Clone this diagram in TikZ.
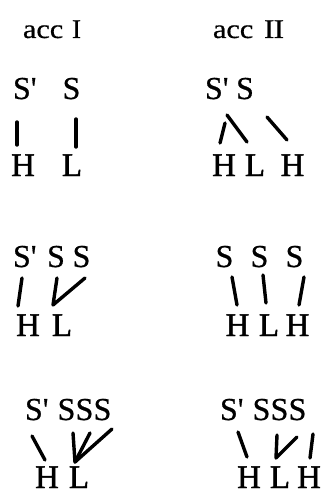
\documentclass[tikz,border=0pt]{standalone}
\usepackage{fontspec}
\setmainfont{Liberation Serif}
\newfontfamily\symfont[FakeBold=0.6]{Liberation Serif}
\newfontfamily\tonefont[FakeBold=1.4]{Liberation Serif}
\begin{document}
\begin{tikzpicture}[x=1pt,y=-1pt,
  every node/.style={inner sep=0pt,outer sep=0pt},
  title/.style={font=\symfont\fontsize{27}{30}\selectfont,anchor=base west},
  sym/.style={font=\symfont\fontsize{32}{36}\selectfont,anchor=base},
  symw/.style={font=\symfont\fontsize{32}{36}\selectfont,anchor=base west},
  tone/.style={font=\tonefont\fontsize{33}{36}\selectfont,anchor=base},
  assoc/.style={line width=3.4pt,line cap=round,line join=round}]
\useasboundingbox (0,0) rectangle (323,492);
% titles
\node[title] (t1a) at (23,38) {\scalebox{1.12}[1]{acc}};
\node[title] (t1b) at (72,38) {I};
\node[title] (t2a) at (213,38) {\scalebox{1.12}[1]{acc}};
\node[title] (t2b) at (264,38) {\scalebox{1.15}[1]{I\kern-0.6ptI}};
% ---------- row 1 left
\node[symw] (a1p) at (13,99) {S\textquotesingle};
\node[sym] (a1s) at (71.5,99) {S};
\node[tone] (a1h) at (23,176) {H};
\node[tone] (a1l) at (72,176) {L};
\coordinate (a1u1) at (17,122); \coordinate (a1d1) at (17,145);
\coordinate (a1u2) at (76,119); \coordinate (a1d2) at (76,147);
\draw[assoc] (a1u1) -- (a1d1);
\draw[assoc] (a1u2) -- (a1d2);
% ---------- row 1 right
\node[symw] (b1p) at (205,99) {S\textquotesingle};
\node[sym] (b1s) at (245,99) {S};
\node[tone] (b1h) at (224,176) {H};
\node[tone] (b1l) at (255,176) {L};
\node[tone] (b1h2) at (292.5,176) {H};
\coordinate (b1u1) at (225,123); \coordinate (b1d1) at (220,143);
\coordinate (b1u2) at (227,115); \coordinate (b1d2) at (247,142);
\coordinate (b1u3) at (267,117); \coordinate (b1d3) at (287,140);
\draw[assoc] (b1u1) -- (b1d1);
\draw[assoc] (b1u2) -- (b1d2);
\draw[assoc] (b1u3) -- (b1d3);
% ---------- row 2 left
\node[symw] (a2p) at (13,267) {S\textquotesingle};
\node[sym] (a2s1) at (56,267) {S};
\node[sym] (a2s2) at (81.5,267) {S};
\node[tone] (a2h) at (28,336) {H};
\node[tone] (a2l) at (62,336) {L};
\coordinate (a2u1) at (22,278); \coordinate (a2d1) at (18,306);
\coordinate (a2u2) at (57,278); \coordinate (a2v) at (53,305);
\coordinate (a2u3) at (85,278);
\draw[assoc] (a2u1) -- (a2d1);
\draw[assoc] (a2u2) -- (a2v) -- (a2u3);
% ---------- row 2 right
\node[sym] (b2s1) at (224.5,267) {S};
\node[sym] (b2s2) at (259.5,267) {S};
\node[sym] (b2s3) at (294.5,267) {S};
\node[tone] (b2h) at (237.5,336) {H};
\node[tone] (b2l) at (269,336) {L};
\node[tone] (b2h2) at (297.5,336) {H};
\coordinate (b2u1) at (232,277); \coordinate (b2d1) at (237,305);
\coordinate (b2u2) at (263,275); \coordinate (b2d2) at (266,303);
\coordinate (b2u3) at (304,277); \coordinate (b2d3) at (299,305);
\draw[assoc] (b2u1) -- (b2d1);
\draw[assoc] (b2u2) -- (b2d2);
\draw[assoc] (b2u3) -- (b2d3);
% ---------- row 3 left
\node[symw] (a3p) at (25,420) {S\textquotesingle};
\node[sym] (a3s1) at (66.5,420) {S};
\node[sym] (a3s2) at (84.5,420) {S};
\node[sym] (a3s3) at (102.5,420) {S};
\node[tone] (a3h) at (47,488) {H};
\node[tone] (a3l) at (79,488) {L};
\coordinate (a3u1) at (32,436); \coordinate (a3d1) at (45,460);
\coordinate (a3u2) at (73,433); \coordinate (a3v) at (75,462);
\coordinate (a3u3) at (90,433); \coordinate (a3u4) at (112,429);
\draw[assoc] (a3u1) -- (a3d1);
\draw[assoc] (a3u2) -- (a3v);
\draw[assoc] (a3u3) -- (a3v);
\draw[assoc] (a3u4) -- (a3v);
% ---------- row 3 right
\node[symw] (b3p) at (220,420) {S\textquotesingle};
\node[sym] (b3s1) at (261.5,420) {S};
\node[sym] (b3s2) at (279.5,420) {S};
\node[sym] (b3s3) at (297.5,420) {S};
\node[tone] (b3h) at (249,488) {H};
\node[tone] (b3l) at (280,488) {L};
\node[tone] (b3h2) at (309,488) {H};
\coordinate (b3u1) at (238,432); \coordinate (b3d1) at (247,457);
\coordinate (b3u2) at (277,435); \coordinate (b3v) at (276,458);
\coordinate (b3u3) at (297,437);
\coordinate (b3u4) at (313,434); \coordinate (b3d4) at (310,458);
\draw[assoc] (b3u1) -- (b3d1);
\draw[assoc] (b3u2) -- (b3v) -- (b3u3);
\draw[assoc] (b3u4) -- (b3d4);
\end{tikzpicture}
\end{document}
